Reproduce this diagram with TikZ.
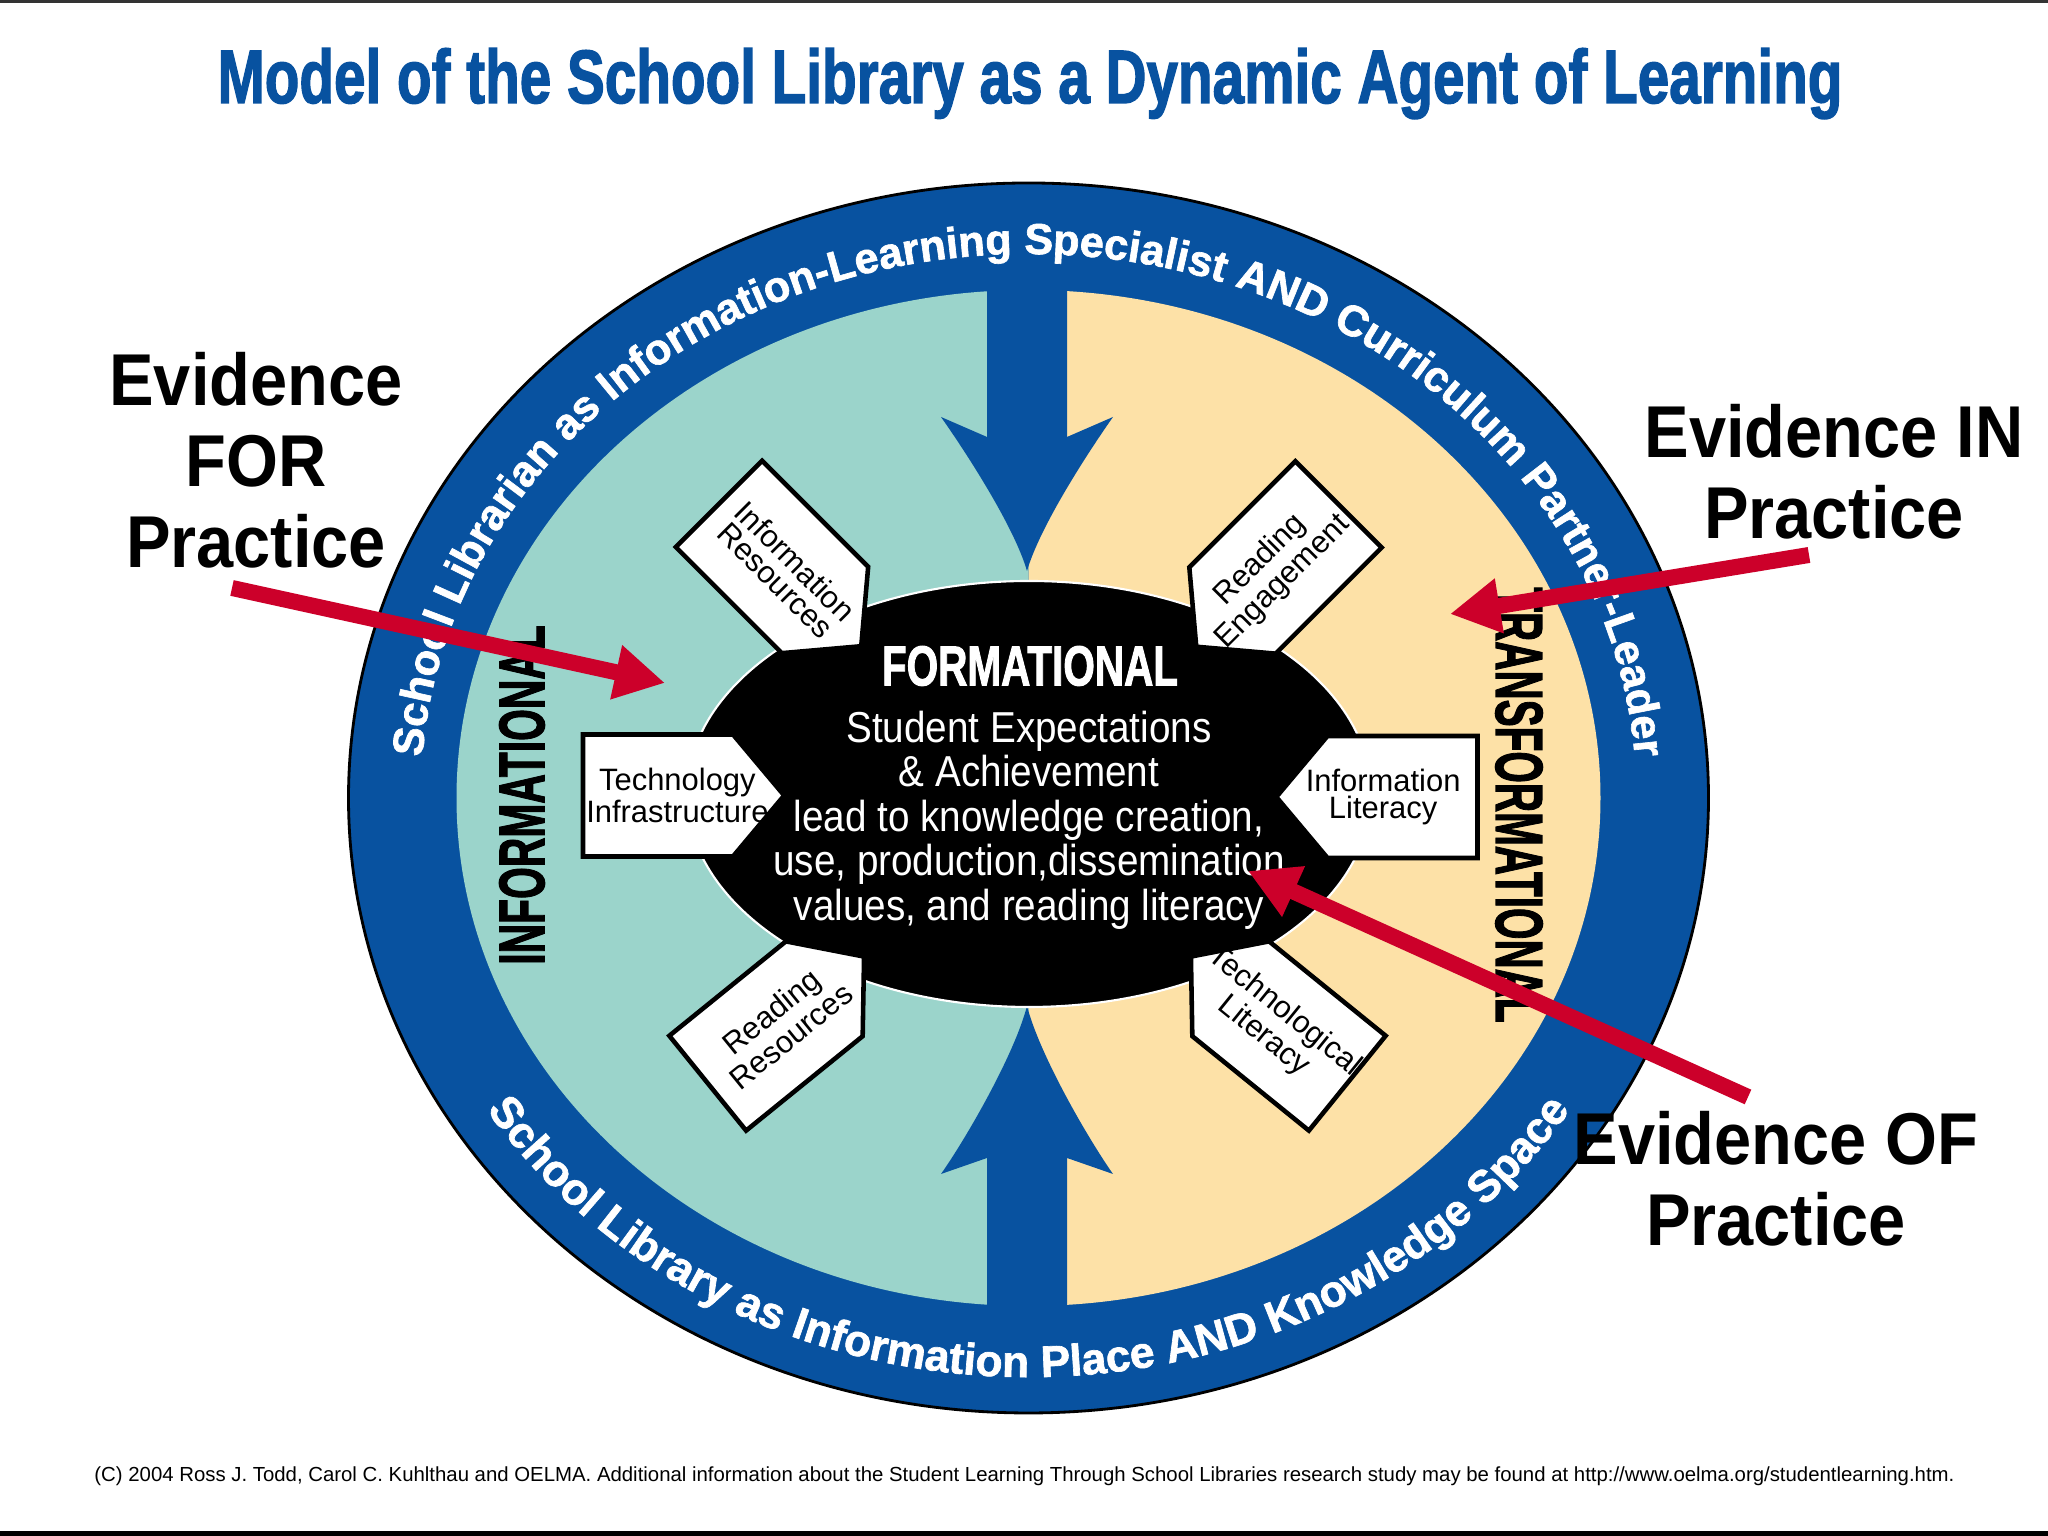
\documentclass[tikz,border=0pt]{standalone}
\usepackage{fontspec}
\setmainfont{Liberation Sans}
\newfontfamily\heavyfont[FakeBold=2]{Liberation Sans Bold}
\newfontfamily\ringfont[FakeBold=1.5]{Liberation Sans Bold}
\usepackage{tikz}
\usetikzlibrary{shapes.symbols,decorations.text,arrows.meta,calc}
\definecolor{ringblue}{RGB}{8,82,160}
\definecolor{infoteal}{RGB}{155,212,203}
\definecolor{transyellow}{RGB}{253,225,167}
\definecolor{evidred}{RGB}{204,0,42}
\tikzstyle{sign}=[shape=signal,draw=black,line width=1.3pt,fill=white,signal pointer angle=100,minimum height=1.22cm,text width=1.5cm,inner xsep=0pt,inner ysep=0pt]
\tikzstyle{sign text}=[align=center,font=\fontsize{8.8}{7.8}\selectfont,inner sep=0pt]
\tikzstyle{heavy}=[font=\heavyfont\fontsize{19}{19}\selectfont,inner sep=0pt]
\tikzstyle{evidence}=[align=center,font=\fontsize{19}{21}\selectfont\bfseries,yscale=1.1]
\tikzstyle{red arrow}=[draw=evidred,line width=1.6mm,-{Triangle[length=5mm,width=5.2mm]}]

\begin{document}
\begin{tikzpicture}
          \useasboundingbox (0,0) rectangle (20.48,15.36);
          \fill[white] (0,0) rectangle (20.48,15.36);
          \fill[black!80] (0,15.33) rectangle (20.48,15.36);
          \fill[black] (0,0) rectangle (20.48,0.045);
          % ring and halves
          \filldraw[fill=ringblue,draw=black,line width=0.8pt] (10.285,7.38) ellipse [x radius=6.80,y radius=6.15];
          \fill[infoteal] (10.285,12.46) arc[start angle=90,end angle=270,x radius=5.72,y radius=5.08] -- cycle;
          \fill[transyellow] (10.285,2.30) arc[start angle=270,end angle=450,x radius=5.72,y radius=5.08] -- cycle;
          % blue arrows
          \fill[ringblue] (9.87,12.6) -- (9.87,10.99) -- (9.41,11.19) .. controls (9.65,10.85) and (10.14,10.1) .. (10.27,9.65)
            .. controls (10.40,10.1) and (10.89,10.85) .. (11.13,11.19) -- (10.67,10.99) -- (10.67,12.6) -- cycle;
          \fill[ringblue] (9.87,2.1) -- (9.87,3.78) -- (9.41,3.62) .. controls (9.65,3.96) and (10.14,4.8) .. (10.27,5.3)
            .. controls (10.40,4.8) and (10.89,3.96) .. (11.13,3.62) -- (10.67,3.78) -- (10.67,2.1) -- cycle;
          \filldraw[fill=black,draw=white,line width=0.6pt] (10.29,7.42) ellipse [x radius=3.42,y radius=2.13];
          % signs
          \node[sign] (techinf) at (6.58,7.405) {};
          \node[sign,signal to=west] (inflit) at (14.025,7.39) {};
          \node[sign,rotate=-45] (infres) at (7.72,9.79) {};
          \node[sign,signal to=west,rotate=45] (readeng) at (12.855,9.785) {};
          \node[sign,rotate=39] (readres) at (7.66,5.00) {};
          \node[sign,signal to=west,rotate=-39] (techlit) at (12.89,5.00) {};
          \node[sign text] (techinf text) at ($(techinf.center)!0.15!(techinf.east)$) {Technology\\Infrastructure};
          \node[sign text] (inflit text) at ($(inflit.center)!0.15!(inflit.west)$) {Information\\Literacy};
          \node[sign text,rotate=-45] (infres text) at ($(infres.center)!0.15!(infres.east)$) {Information\\Resources};
          \node[sign text,rotate=45] (readeng text) at ($(readeng.center)!0.15!(readeng.west)$) {Reading\\Engagement};
          \node[sign text,rotate=39] (readres text) at ($(readres.center)!0.15!(readres.east)$) {Reading\\Resources};
          \node[sign text,rotate=-39] (techlit text) at ($(techlit.center)!0.15!(techlit.west)$) {Technological\\Literacy};
          % labels
          \node[heavy,text=white,font=\heavyfont\fontsize{16}{16}\selectfont,xscale=0.72] (formational) at (10.30,8.70) {FORMATIONAL};
          \node[text=white,align=center,font=\fontsize{11}{11.3}\selectfont,yscale=1.12] (expect) at (10.29,7.16)
            {Student Expectations\\\& Achievement\\lead to knowledge creation,\\use, production,dissemination\\values, and reading literacy};
          \node[heavy,font=\heavyfont\fontsize{18.3}{18.3}\selectfont,rotate=90,xscale=0.635] (informational) at (5.22,7.41) {INFORMATIONAL};
          \node[heavy,rotate=-90,xscale=0.606] (transformational) at (15.19,7.31) {TRANSFORMATIONAL};
          \path[decorate,decoration={text along path,text align=center,text color=white,
            text={|\ringfont\fontsize{12.3}{12.3}\selectfont|School Librarian as Information-Learning Specialist AND Curriculum Partner-Leader}}]
            (10.285,7.38) ++(178:6.08 and 5.44) arc[start angle=178,end angle=2,x radius=6.08,y radius=5.44];
          \path[decorate,decoration={text along path,text align=center,text color=white,
            text={|\ringfont\fontsize{12.6}{12.6}\selectfont|School Library as Information Place AND Knowledge Space}}]
            (10.285,7.38) ++(206:6.43 and 5.79) arc[start angle=206,end angle=334,x radius=6.43,y radius=5.79];
          % title and footer
          \node[heavy,text=ringblue,font=\heavyfont\fontsize{21.5}{21.5}\selectfont,xscale=0.75,anchor=base] (title) at (10.30,14.33)
            {Model of the School Library as a Dynamic Agent of Learning};
          \node[font=\fontsize{6}{7}\selectfont,anchor=base,inner sep=0pt] (footer) at (10.245,0.545)
            {\resizebox{18.6cm}{!}{(C) 2004 Ross J. Todd, Carol C. Kuhlthau and OELMA. Additional information about the Student Learning Through School Libraries research study may be found at http://www.oelma.org/studentlearning.htm.}};
          % evidence
          \node[evidence] (evfor) at (2.56,10.76) {Evidence\\FOR\\Practice};
          \node[evidence] (evin) at (18.34,10.645) {Evidence IN\\Practice};
          \node[evidence] (evof) at (17.76,3.57) {Evidence OF\\Practice};
          \coordinate (for start) at (2.32,9.48);
          \coordinate (for tip) at (6.65,8.53);
          \coordinate (in start) at (18.09,9.81);
          \coordinate (in tip) at (14.50,9.22);
          \coordinate (of start) at (17.48,4.39);
          \coordinate (of tip) at (12.48,6.65);
          \draw[red arrow] (for start) -- (for tip);
          \draw[red arrow] (in start) -- (in tip);
          \draw[red arrow] (of start) -- (of tip);
\end{tikzpicture}
\end{document}
